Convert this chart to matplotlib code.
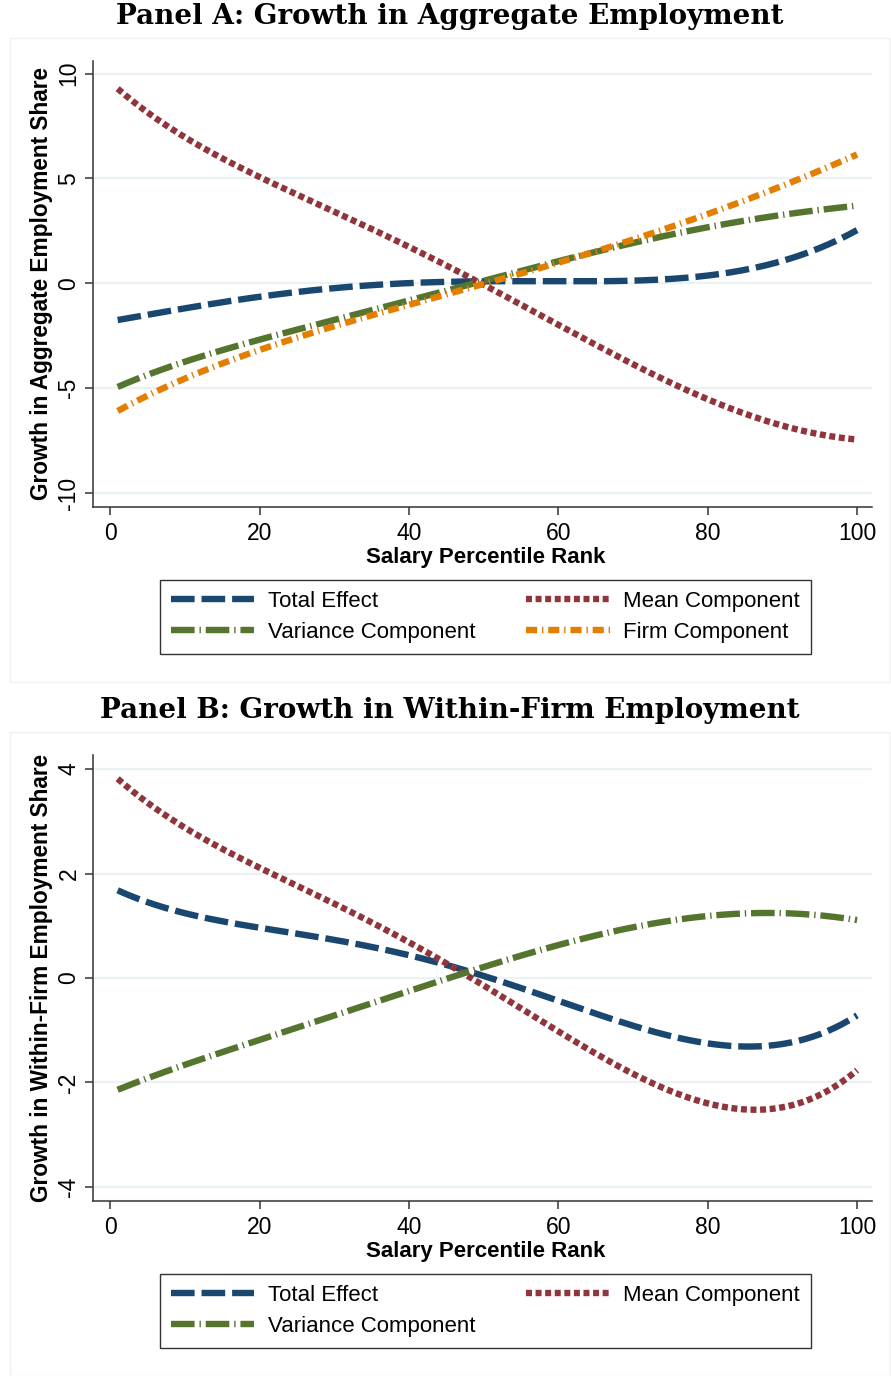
import matplotlib
matplotlib.use("Agg")
import matplotlib.pyplot as plt
from matplotlib.patches import Rectangle
import numpy as np

# ---- data ----
pct = [1, 10, 20, 30, 40, 50, 60, 70, 80, 87, 90, 100]

a_total = [-1.75, -1.20, -0.64, -0.25, 0.05, 0.08, 0.07, 0.10, 0.45, 0.80, 1.00, 2.55]
a_mean = [9.24, 7.10, 4.94, 3.37, 1.84, -0.07, -1.98, -3.90, -5.56, -6.45, -6.75, -7.47]
a_var = [-4.94, -3.75, -2.70, -1.72, -0.79, 0.02, 1.12, 1.93, 2.65, 3.10, 3.27, 3.70]
a_firm = [-6.09, -4.55, -3.17, -2.05, -1.03, -0.07, 1.03, 2.08, 3.27, 4.20, 4.70, 6.13]

b_total = [1.68, 1.24, 0.96, 0.73, 0.44, 0.06, -0.48, -0.90, -1.22, -1.32, -1.28, -0.71]
b_mean = [3.83, 2.83, 2.16, 1.44, 0.63, -0.13, -1.00, -1.86, -2.37, -2.53, -2.49, -1.76]
b_var = [-2.14, -1.66, -1.19, -0.72, -0.23, 0.19, 0.63, 0.98, 1.19, 1.24, 1.24, 1.11]

xticks = [0, 20, 40, 60, 80, 100]
a_yticks = [-10, -5, 0, 5, 10]
b_yticks = [-4, -2, 0, 2, 4]

plt.rcParams['font.family'] = ['Liberation Sans', 'DejaVu Sans']
plt.rcParams['lines.scale_dashes'] = False

C_BLUE = '#1a476f'
C_RED = '#90353b'
C_GREEN = '#55752f'
C_ORANGE = '#e37e00'
LW = 4.6

styles = {
    'Total Effect': dict(color=C_BLUE, dashes=(17, 5)),
    'Mean Component': dict(color=C_RED, dashes=(4.3, 2.6)),
    'Variance Component': dict(color=C_GREEN, dashes=(17, 3.5, 1, 3.5)),
    'Firm Component': dict(color=C_ORANGE, dashes=(8, 3.5, 1, 3.5)),
}


def smooth(x, y):
    # smooth curve through the read points
    xs = np.linspace(x[0], x[-1], 200)
    coef = np.polyfit(x, y, 5)
    return xs, np.polyval(coef, xs)


def draw_panel(fig, rect, title, title_y, series, yticks, ylim, ylabel,
               xlabel_y, leg_xy, bg_rect):
    fig.patches.append(Rectangle(bg_rect[:2], bg_rect[2], bg_rect[3],
                                 transform=fig.transFigure, facecolor='white',
                                 edgecolor='#eef0f2', lw=1.0, zorder=-5))
    fig.text(0.505, title_y, title, ha='center', va='center',
             family='DejaVu Serif', fontweight='bold', fontsize=20)
    ax = fig.add_axes(rect)
    ax.patch.set_alpha(0)
    handles = []
    for name, y in series:
        xs, ys = smooth(pct, y)
        st = styles[name]
        ln, = ax.plot(xs, ys, color=st['color'], lw=LW, dashes=st['dashes'],
                      label=name, solid_capstyle='butt')
        handles.append(ln)
    ax.set_xlim(-2.3, 102)
    ax.set_ylim(*ylim)
    ax.set_xticks(xticks)
    ax.set_yticks(yticks)
    ax.set_yticklabels([str(t) for t in yticks], rotation=90, va='center')
    ax.tick_params(axis='both', labelsize=16.5, length=6, width=1.1,
                   color='#333333', pad=3)
    ax.tick_params(axis='x', pad=5)
    for t in yticks:
        ax.axhline(t, color='#eaf2f3', lw=1.6, zorder=0)
    ax.spines['top'].set_visible(False)
    ax.spines['right'].set_visible(False)
    for s in ('left', 'bottom'):
        ax.spines[s].set_linewidth(1.1)
        ax.spines[s].set_color('#333333')
    ax.set_ylabel(ylabel, fontsize=16.3, fontweight='bold', labelpad=3)
    fig.text(0.545, xlabel_y, 'Salary Percentile Rank', ha='center',
             va='center', fontsize=16, fontweight='bold')

    # legend: column-major order
    names = [h.get_label() for h in handles]
    order = ['Total Effect', 'Variance Component', 'Mean Component',
             'Firm Component']
    hs = [handles[names.index(n)] for n in order if n in names]
    leg = fig.legend(handles=hs, loc='upper left', ncol=2,
                     bbox_to_anchor=leg_xy, bbox_transform=fig.transFigure,
                     fontsize=16, frameon=True, fancybox=False,
                     handlelength=3.75, handletextpad=0.6, labelspacing=0.45,
                     columnspacing=2.3, borderpad=0.5, borderaxespad=0)
    leg.get_frame().set_edgecolor('black')
    leg.get_frame().set_linewidth(1.0)
    return ax


fig = plt.figure(figsize=(8.91, 13.76), dpi=100)
H = 1376.0
W = 891.0


def fy(p):
    return 1 - p / H


draw_panel(fig, [93 / W, fy(507), (872 - 93) / W, (507 - 61) / H],
           'Panel A: Growth in Aggregate Employment', fy(17),
           [('Total Effect', a_total), ('Mean Component', a_mean),
            ('Variance Component', a_var), ('Firm Component', a_firm)],
           a_yticks, (-10.67, 10.6), 'Growth in Aggregate Employment Share',
           fy(557), (160 / W, fy(580)),
           (10 / W, fy(682), 880 / W, (682 - 38) / H))

draw_panel(fig, [93 / W, fy(1201), (872 - 93) / W, (1201 - 755) / H],
           'Panel B: Growth in Within-Firm Employment', fy(711),
           [('Total Effect', b_total), ('Mean Component', b_mean),
            ('Variance Component', b_var)],
           b_yticks, (-4.27, 4.27), 'Growth in Within-Firm Employment Share',
           fy(1251), (160 / W, fy(1274)),
           (10 / W, fy(1376), 880 / W, (1376 - 732) / H))

fig.savefig('out.png', dpi=100)
